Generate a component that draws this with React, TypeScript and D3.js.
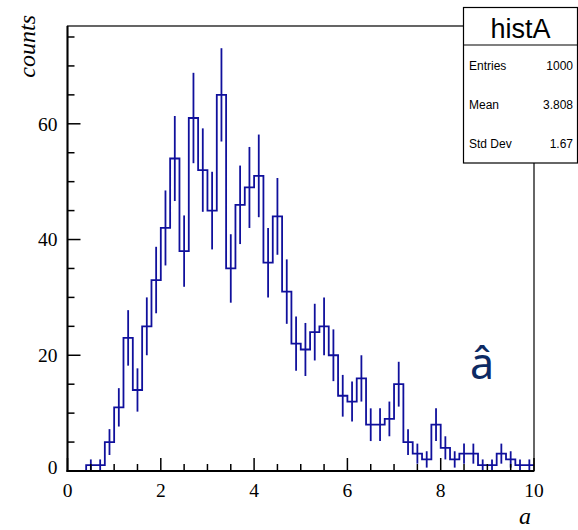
import React from "react";
import { scaleLinear, line, curveStepAfter, range } from "d3";

const width = 578;
const height = 530;
const left = 67.5;
const right = 534;
const top = 26;
const bottom = 471;

// bin contents, 50 bins of width 0.2 from 0 to 10
const binLow = range(0, 50).map((i) => i * 0.2);
const counts = [
  0, 0, 1, 1, 5, 11, 23, 14, 25, 33,
  42, 54, 38, 61, 52, 45, 65, 35, 46, 49,
  51, 36, 44, 31, 22, 21, 24, 25, 20, 13,
  12, 16, 8, 8, 9, 15, 5, 3, 2, 8,
  4, 2, 3, 3, 1, 1, 3, 2, 1, 1,
];
const xTicks = [0, 2, 4, 6, 8, 10];
const yTicks = [0, 20, 40, 60];
const statLabels = ["Entries", "Mean", "Std Dev"];
const statValues = ["1000", "3.808", "1.67"];

const blue = "#10109c";
const serif = "'Liberation Serif', 'Times New Roman', serif";
const sans = "'Liberation Sans', Arial, sans-serif";

export default function App() {
  const x = scaleLinear().domain([0, 10]).range([left, right]);
  const y = scaleLinear().domain([0, 76.9]).range([bottom, top]);

  const steps = binLow.map((b, i) => ({ x: b, y: counts[i] }));
  steps.push({ x: 10, y: counts[counts.length - 1] });
  const histPath = line<{ x: number; y: number }>()
    .x((d) => x(d.x))
    .y((d) => y(d.y))
    .curve(curveStepAfter)(steps);

  const xMinor = range(0, 10.01, 0.5);
  const yMinor = range(0, 76, 5);

  return (
    <svg
      width={width}
      height={height}
      style={{ position: "absolute", left: 0, top: 0, background: "#fff" }}
    >
      <rect x={0} y={0} width={width} height={height} fill="#fff" />

      {/* histogram */}
      <path d={histPath ?? ""} fill="none" stroke={blue} strokeWidth={1.8} />
      {counts.map((c, i) =>
        c > 0 ? (
          <line
            key={i}
            x1={x(binLow[i] + 0.1)}
            x2={x(binLow[i] + 0.1)}
            y1={y(c - Math.sqrt(c))}
            y2={y(c + Math.sqrt(c))}
            stroke={blue}
            strokeWidth={1.8}
          />
        ) : null
      )}

      {/* frame */}
      <rect
        x={left}
        y={top}
        width={right - left}
        height={bottom - top}
        fill="none"
        stroke="#000"
        strokeWidth={1.2}
      />
      <line x1={left} x2={left} y1={top} y2={bottom + 1} stroke="#000" strokeWidth={2} />
      <line x1={left - 1} x2={right} y1={bottom} y2={bottom} stroke="#000" strokeWidth={2} />

      {/* x ticks */}
      {xMinor.map((t) => {
        const major = Math.abs(t % 2) < 1e-6;
        return (
          <line
            key={"xm" + t}
            x1={x(t)}
            x2={x(t)}
            y1={bottom}
            y2={bottom - (major ? 13 : 7)}
            stroke="#000"
            strokeWidth={1.5}
          />
        );
      })}
      {xTicks.map((t) => (
        <text
          key={"xt" + t}
          x={x(t)}
          y={497}
          textAnchor="middle"
          fontFamily={serif}
          fontSize={19.5}
        >
          {t}
        </text>
      ))}

      {/* y ticks */}
      {yMinor.map((t) => {
        const major = t % 20 === 0;
        return (
          <line
            key={"ym" + t}
            x1={left}
            x2={left + (major ? 13 : 7)}
            y1={y(t)}
            y2={y(t)}
            stroke="#000"
            strokeWidth={1.5}
          />
        );
      })}
      {yTicks.map((t) => (
        <text
          key={"yt" + t}
          x={left - 10}
          y={y(t) - (t === 0 ? 4 : 0)}
          dy="0.35em"
          textAnchor="end"
          fontFamily={serif}
          fontSize={19.5}
        >
          {t}
        </text>
      ))}

      {/* axis titles */}
      <text
        transform={`translate(35, ${top - 11}) rotate(-90)`}
        textAnchor="end"
        fontFamily={serif}
        fontStyle="italic"
        fontSize={24}
      >
        counts
      </text>
      <text
        x={right - 3}
        y={524}
        textAnchor="end"
        fontFamily={serif}
        fontStyle="italic"
        fontSize={24}
      >
        a
      </text>

      {/* annotation */}
      <text
        x={482}
        y={379}
        textAnchor="middle"
        fontFamily="'Noto Sans', 'Open Sans', sans-serif"
        fontSize={43}
        fill="#0d2a63"
      >
        â
      </text>

      {/* stats box */}
      <rect x={463.5} y={7.5} width={114} height={155.5} fill="#fff" stroke="#000" strokeWidth={1.2} />
      <line x1={463.5} x2={577.5} y1={45} y2={45} stroke="#000" strokeWidth={1.2} />
      <text x={520.5} y={38} textAnchor="middle" fontFamily={sans} fontSize={27}>
        histA
      </text>
      {statLabels.map((l, i) => (
        <g key={l}>
          <text x={469} y={70 + i * 39} fontFamily={sans} fontSize={12}>
            {l}
          </text>
          <text x={573} y={70 + i * 39} textAnchor="end" fontFamily={sans} fontSize={12}>
            {statValues[i]}
          </text>
        </g>
      ))}
    </svg>
  );
}
